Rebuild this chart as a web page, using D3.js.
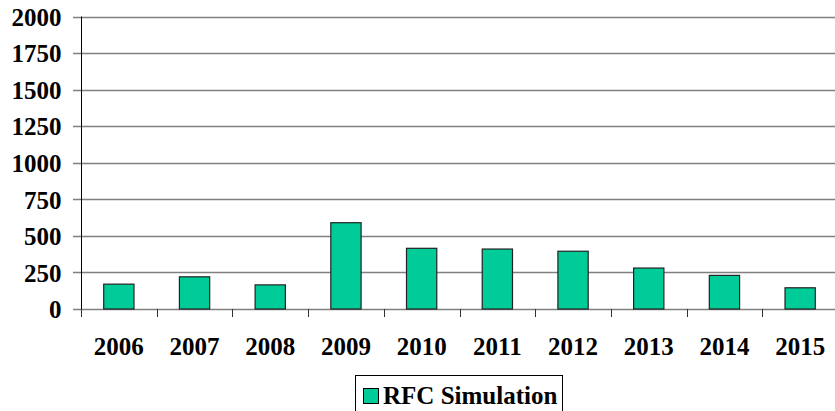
<!DOCTYPE html>
<html>
<head>
<meta charset="utf-8">
<script src="https://cdn.jsdelivr.net/npm/d3@7"></script>
<style>
  html, body { margin: 0; padding: 0; background: #fff; }
  svg { display: block; }
  svg text { font-family: "Liberation Serif", "Times New Roman", serif; font-weight: bold; }
</style>
</head>
<body>
<svg id="chart" width="835" height="411"></svg>
<script>
const categories = ["2006", "2007", "2008", "2009", "2010", "2011", "2012", "2013", "2014", "2015"];
const values = [170, 220, 165, 590, 415, 410, 395, 280, 230, 145];
const yTicks = [0, 250, 500, 750, 1000, 1250, 1500, 1750, 2000];
const seriesName = "RFC Simulation";

(function () {
const svg = d3.select("#chart");
const pLeft = 81, pRight = 838, pTop = 16.5, pBottom = 309;

const x = d3.scaleBand().domain(categories).range([pLeft, pRight]).paddingInner(0.6).paddingOuter(0.3);
const xb = d3.scaleBand().domain(categories).range([pLeft, pRight]).padding(0);
const y = d3.scaleLinear().domain([0, 2000]).range([pBottom, pTop]);

// gridlines
svg.append("g").selectAll("line").data(yTicks).join("line")
  .attr("x1", pLeft - 8).attr("x2", pRight)
  .attr("y1", d => Math.round(y(d)) + 0.5).attr("y2", d => Math.round(y(d)) + 0.5)
  .attr("stroke", "#808080").attr("stroke-width", 1.4);

// y axis
const yAxis = d3.axisLeft(y).tickValues(yTicks).tickFormat(d3.format("d")).tickSize(0).tickPadding(20);
const gy = svg.append("g").attr("transform", `translate(${pLeft + 0.5},0.5)`).call(yAxis);
gy.attr("font-family", null).attr("font-size", null);
gy.select(".domain").remove();
gy.selectAll("text").style("font-size", "25px").attr("fill", "#000").attr("dy", "0.33em");
svg.append("line").attr("x1", pLeft + 0.5).attr("x2", pLeft + 0.5)
  .attr("y1", y(2000)).attr("y2", pBottom + 8).attr("stroke", "#000").attr("stroke-width", 1);

// x category tick marks (between categories)
svg.append("g").selectAll("line").data(categories).join("line")
  .attr("x1", d => Math.round(xb(d)) + 0.5).attr("x2", d => Math.round(xb(d)) + 0.5)
  .attr("y1", pBottom).attr("y2", pBottom + 8)
  .attr("stroke", "#333").attr("stroke-width", 1);

// bars
svg.append("g").selectAll("rect").data(categories).join("rect")
  .attr("x", d => x(d)).attr("width", x.bandwidth())
  .attr("y", (d, i) => y(values[i])).attr("height", (d, i) => pBottom - y(values[i]))
  .attr("fill", "#00CC99").attr("stroke", "#222").attr("stroke-width", 1.2);

// x labels
svg.append("g").selectAll("text").data(categories).join("text")
  .attr("x", d => xb(d) + xb.bandwidth() / 2).attr("y", 355)
  .attr("text-anchor", "middle")
  .style("font-size", "25px").attr("fill", "#000")
  .text(d => d);

// legend
const lg = svg.append("g");
lg.append("rect").attr("x", 355.5).attr("y", 375.5).attr("width", 207).attr("height", 45)
  .attr("fill", "#fff").attr("stroke", "#000").attr("stroke-width", 1);
lg.append("rect").attr("x", 363.5).attr("y", 388.5).attr("width", 15).attr("height", 15)
  .attr("fill", "#00CC99").attr("stroke", "#000").attr("stroke-width", 1);
lg.append("text").attr("x", 383).attr("y", 404)
  .style("font-size", "25px").attr("fill", "#000")
  .text(seriesName);
})();
</script>
</body>
</html>
